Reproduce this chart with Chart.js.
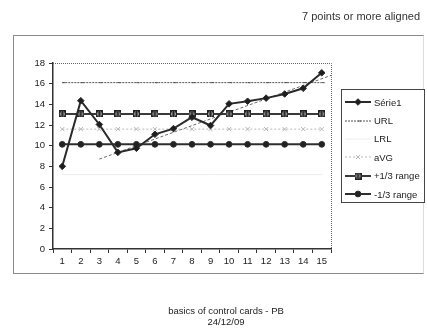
<!DOCTYPE html>
<html>
<head>
<meta charset="utf-8">
<script src="https://cdn.jsdelivr.net/npm/chart.js@4/dist/chart.umd.min.js"></script>
<style>
  html, body { margin: 0; padding: 0; background: #fff; }
  #wrap { position: relative; width: 427px; height: 331px; overflow: hidden;
          font-family: "Liberation Sans", Arial, sans-serif; }
  #chart { position: absolute; left: 0; top: 0; }
  #frame { position: absolute; left: 13px; top: 35px; width: 411px; height: 239px;
           border: 1px solid #8a8a8a; border-right-color: #dcdcdc; box-sizing: border-box; }
  #title { position: absolute; right: 7px; top: 10px; font-size: 11px; color: #333; }
  #footer { position: absolute; left: 0; width: 452px; top: 305px; text-align: center;
            font-size: 9.5px; line-height: 11px; color: #222; }
  #legend { position: absolute; left: 341px; top: 89px; width: 84px; height: 114px;
            border: 1px solid #444; box-sizing: border-box; padding-top: 3px; background: #fff; }
  .item { height: 18.4px; display: flex; align-items: center; font-size: 9.5px; color: #222; }
  .item canvas { margin-left: 3px; margin-right: 3px; }
</style>
</head>
<body>
<div id="wrap">
  <div id="frame"></div>
  <canvas id="chart" width="427" height="331"></canvas>
  <div id="title">7 points or more aligned</div>
  <div id="legend"></div>
  <div id="footer">basics of control cards - PB<br>24/12/09</div>
</div>
<script>
// Sample numbers 1..15
const categories = ['1','2','3','4','5','6','7','8','9','10','11','12','13','14','15'];
// Measured series
const serie1 = [8.0, 14.35, 12.05, 9.35, 9.75, 11.1, 11.65, 12.75, 11.95, 14.05, 14.3, 14.6, 15.0, 15.55, 17.05];
// Control limits and centre line
const url    = [16.1, 16.1, 16.1, 16.1, 16.1, 16.1, 16.1, 16.1, 16.1, 16.1, 16.1, 16.1, 16.1, 16.1, 16.1];
const lrl    = [7.2, 7.2, 7.2, 7.2, 7.2, 7.2, 7.2, 7.2, 7.2, 7.2, 7.2, 7.2, 7.2, 7.2, 7.2];
const avg    = [11.6, 11.6, 11.6, 11.6, 11.6, 11.6, 11.6, 11.6, 11.6, 11.6, 11.6, 11.6, 11.6, 11.6, 11.6];
const plusThird  = [13.07, 13.07, 13.07, 13.07, 13.07, 13.07, 13.07, 13.07, 13.07, 13.07, 13.07, 13.07, 13.07, 13.07, 13.07];
const minusThird = [10.13, 10.13, 10.13, 10.13, 10.13, 10.13, 10.13, 10.13, 10.13, 10.13, 10.13, 10.13, 10.13, 10.13, 10.13];
// Trend line drawn through the rising run (x in sample units)
const trendX = [3, 15.5];
const trendY = [8.7, 16.8];
const yTicks = [0, 2, 4, 6, 8, 10, 12, 14, 16, 18];

const seriesNames = ['Série1', 'URL', 'LRL', 'aVG', '+1/3 range', '-1/3 range'];

// boxed-cross marker used by the +1/3 range line
function boxCross() {
  const cv = document.createElement('canvas');
  cv.width = 7; cv.height = 7;
  const c = cv.getContext('2d');
  c.fillStyle = '#9a9a9a';
  c.fillRect(0, 0, 7, 7);
  c.strokeStyle = '#222';
  c.lineWidth = 1;
  c.strokeRect(0.5, 0.5, 6, 6);
  c.beginPath();
  c.moveTo(1, 1); c.lineTo(6, 6);
  c.moveTo(6, 1); c.lineTo(1, 6);
  c.moveTo(3.5, 1); c.lineTo(3.5, 6);
  c.stroke();
  return cv;
}
const boxMarker = boxCross();

const styles = [
  { color: '#2a2a2a', width: 2,   dash: [],     point: 'rectRot', radius: 3.3, fill: '#1e1e1e' },
  { color: '#555555', width: 1,   dash: [2, 1], point: 'dash',    radius: 3,   fill: '#555555' },
  { color: '#ececec', width: 1,   dash: [],     point: false,     radius: 0,   fill: '#ececec' },
  { color: '#b8b8b8', width: 1,   dash: [2, 2], point: 'crossRot',radius: 3,   fill: '#b8b8b8' },
  { color: '#3a3a3a', width: 2,   dash: [],     point: boxMarker, radius: 3.5, fill: '#8c8c8c' },
  { color: '#2e2e2e', width: 2,   dash: [],     point: 'circle',  radius: 2.9, fill: '#222' }
];
const seriesData = [serie1, url, lrl, avg, plusThird, minusThird];

const datasets = seriesData.map((d, i) => {
  const s = styles[i];
  return {
    label: seriesNames[i],
    data: d,
    borderColor: s.color,
    borderWidth: s.width,
    borderDash: s.dash,
    backgroundColor: s.fill,
    pointStyle: s.point,
    pointRadius: s.radius,
    pointBorderColor: s.color,
    pointBackgroundColor: s.fill,
    pointBorderWidth: 1,
    tension: 0,
    fill: false
  };
});
datasets.push({
  label: 'trend',
  data: trendX.map((x, i) => ({ x: x, y: trendY[i] })),
  xAxisID: 'xt',
  borderColor: '#6a6a6a',
  borderWidth: 1,
  borderDash: [3, 2],
  pointRadius: 0,
  fill: false
});

// dotted top/right edges of the plot area
const plotEdges = {
  id: 'plotEdges',
  beforeDatasetsDraw(chart) {
    const a = chart.chartArea, c = chart.ctx;
    c.save();
    c.strokeStyle = '#666';
    c.lineWidth = 1;
    c.setLineDash([1, 1]);
    c.beginPath();
    c.moveTo(a.left, a.top + 0.5);
    c.lineTo(a.right + 0.5, a.top + 0.5);
    c.lineTo(a.right + 0.5, a.bottom);
    c.stroke();
    c.restore();
  }
};

const chart = new Chart(document.getElementById('chart'), {
  type: 'line',
  data: { labels: categories, datasets: datasets },
  plugins: [plotEdges],
  options: {
    responsive: false,
    animation: false,
    devicePixelRatio: 1,
    layout: { padding: { left: 20, right: 96, top: 63, bottom: 62 } },
    plugins: { legend: { display: false }, tooltip: { enabled: false }, title: { display: false } },
    scales: {
      x: {
        type: 'category',
        offset: true,
        grid: { offset: true, drawOnChartArea: false, drawTicks: true, tickLength: 4, color: '#333' },
        border: { color: '#333', width: 1.5 },
        ticks: { color: '#222', font: { family: 'Liberation Sans', size: 9.5 }, padding: 3, maxRotation: 0, autoSkip: false },
        afterFit(s) { s.height = 20; }
      },
      xt: {
        type: 'linear',
        display: false,
        min: 0.5,
        max: 15.5
      },
      y: {
        min: 0,
        max: 18,
        afterBuildTicks(s) { s.ticks = yTicks.map(v => ({ value: v })); },
        grid: { drawOnChartArea: false, drawTicks: true, tickLength: 4, color: '#333' },
        border: { color: '#333', width: 1.5 },
        ticks: { color: '#222', font: { family: 'Liberation Sans', size: 9.5 }, padding: 4 },
        afterFit(s) { s.width = 33; }
      }
    }
  }
});

// legend built from the datasets' own styles
const legend = document.getElementById('legend');
seriesNames.forEach((name, i) => {
  const s = styles[i];
  const row = document.createElement('div');
  row.className = 'item';
  const cv = document.createElement('canvas');
  cv.width = 26; cv.height = 10;
  const c = cv.getContext('2d');
  c.strokeStyle = s.color;
  c.lineWidth = s.width;
  c.setLineDash(s.dash);
  c.beginPath(); c.moveTo(0, 5); c.lineTo(26, 5); c.stroke();
  c.setLineDash([]);
  if (s.point) {
    c.fillStyle = s.fill;
    c.strokeStyle = s.color;
    c.lineWidth = 1;
    Chart.helpers.drawPoint(c, {
      pointStyle: s.point, radius: s.radius, borderWidth: 1, rotation: 0
    }, 13, 5);
  }
  const span = document.createElement('span');
  span.textContent = name;
  row.appendChild(cv);
  row.appendChild(span);
  legend.appendChild(row);
});
</script>
</body>
</html>
